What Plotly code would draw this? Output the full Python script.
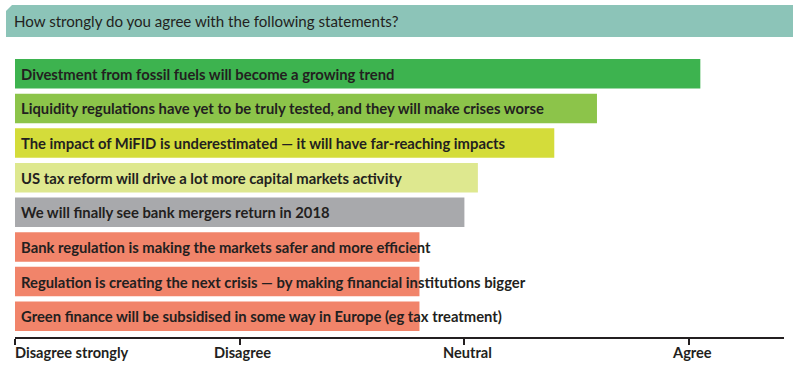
import plotly.graph_objects as go

title_text = "How strongly do you agree with the following statements?"
statements = [
    "Divestment from fossil fuels will become a growing trend",
    "Liquidity regulations have yet to be truly tested, and they will make crises worse",
    "The impact of MiFID is underestimated \u2014 it will have far-reaching impacts",
    "US tax reform will drive a lot more capital markets activity",
    "We will finally see bank mergers return in 2018",
    "Bank regulation is making the markets safer and more efficient",
    "Regulation is creating the next crisis \u2014 by making financial institutions bigger",
    "Green finance will be subsidised in some way in Europe (eg tax treatment)",
]
scores = [4.05, 3.59, 3.40, 3.06, 3.00, 2.80, 2.80, 2.80]
colors = ["#3db34f", "#8cc44a", "#d4dc3a", "#dee88f", "#a8a9ac",
          "#f1846a", "#f1846a", "#f1846a"]
tick_vals = [1, 2, 3, 4]
tick_labels = ["Disagree strongly", "Disagree", "Neutral", "Agree"]

ys = list(range(len(statements)))
axis_min = 1

fig = go.Figure()
fig.add_trace(go.Bar(
    y=ys, x=[s - axis_min for s in scores], base=[axis_min] * len(scores),
    orientation="h", marker=dict(color=colors, line=dict(width=0)),
    hoverinfo="skip", showlegend=False,
))

W, H = 800, 377
ml, mr, mt, mb = 15, 16, 53, 40
pw = W - ml - mr
ph = H - mt - mb


def px_x(px):
    return (px - ml) / pw


def px_y(py):
    return (H - mb - py) / ph


annotations = []
for i, s in enumerate(statements):
    annotations.append(dict(
        x=axis_min, y=i, xref="x", yref="y", text=s, showarrow=False,
        xanchor="left", yanchor="middle", xshift=4,
        font=dict(family="Lato", size=14.8, color="#231f20", weight="bold"),
    ))
for v, t in zip(tick_vals, tick_labels):
    annotations.append(dict(
        x=v, y=px_y(352), xref="x", yref="paper", text=t, showarrow=False,
        xanchor="left" if v == tick_vals[0] else "center", yanchor="middle",
        xshift=-2 if v == tick_vals[0] else 3,
        font=dict(family="Lato", size=14.6, color="#231f20", weight="bold"),
    ))
annotations.append(dict(
    x=px_x(12), y=px_y(21), xref="paper", yref="paper", text=title_text,
    showarrow=False, xanchor="left", yanchor="middle",
    font=dict(family="Lato", size=15.1, color="#231f20"),
))

x0, x1, y0, y1 = px_x(6), px_x(793), px_y(37), px_y(5)
cx, cy = px_x(12), px_y(11)
path = f"M {x0},{y0} L {x0},{cy} L {cx},{y1} L {x1},{y1} L {x1},{y0} Z"

fig.update_layout(
    width=W, height=H,
    margin=dict(l=ml, r=mr, t=mt, b=mb, pad=0),
    paper_bgcolor="white", plot_bgcolor="white",
    bargap=0.147,
    xaxis=dict(range=[axis_min, axis_min + pw / 224.7], showgrid=False, zeroline=False,
               showline=True, linecolor="#231f20", linewidth=2,
               ticks="outside", ticklen=6, tickwidth=1.5, tickcolor="#231f20",
               tickvals=tick_vals, showticklabels=False, fixedrange=True),
    yaxis=dict(range=[7.601, -0.601], showgrid=False, zeroline=False,
               showline=False, showticklabels=False, ticks="", fixedrange=True),
    shapes=[dict(type="path", path=path, xref="paper", yref="paper",
                 fillcolor="#8cc4b8", line=dict(width=0), layer="below")],
    annotations=annotations,
)

fig.write_html("out.html")
